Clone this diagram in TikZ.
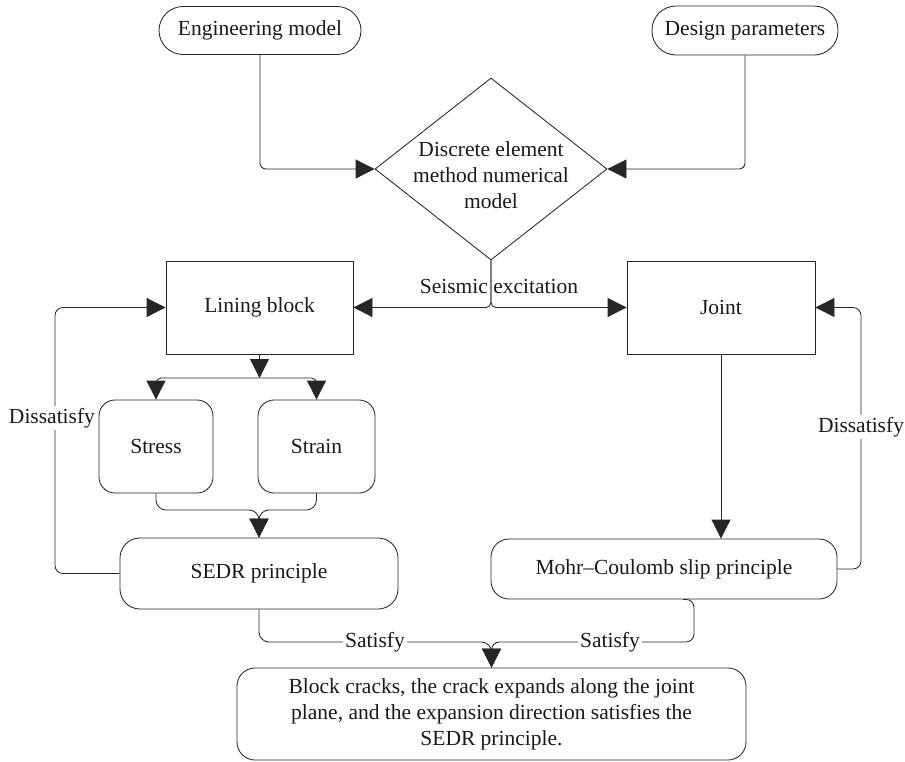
\documentclass[tikz,border=0pt]{standalone}
\usepackage{fontspec}
\setmainfont{Liberation Serif}
\usetikzlibrary{arrows.meta,shapes.geometric,calc}
\begin{document}
\begin{tikzpicture}[x=1pt,y=-1pt,
  every node/.style={font=\fontsize{21.5}{26}\selectfont, text=black!90},
  ln/.style={line width=0.85pt, draw=black!85},
  conn/.style={ln, -{Triangle[length=19pt,width=19pt]}},
  box/.style={ln, rectangle, inner sep=0pt, anchor=center},
  lbl/.style={fill=white, inner sep=2pt}]
\useasboundingbox (0,0) rectangle (905,761);
% nodes
\node[box, rounded corners=24pt, minimum width=202pt, minimum height=48pt] (em) at (260,30.5) {Engineering model};
\node[box, rounded corners=24pt, minimum width=186pt, minimum height=49pt] (dp) at (745,30.5) {Design parameters};
\node[ln, diamond, minimum width=232pt, minimum height=182pt, inner sep=0pt] (dem) at (491,169) {};
\node[align=center, inner sep=0pt] (demt) at (491,175) {Discrete element\\method numerical\\model};
\node[box, minimum width=187pt, minimum height=93pt] (lb) at (259.5,307.5) {Lining block};
\node[box, minimum width=188pt, minimum height=93pt] (jt) at (721,307.5) {Joint};
\node[box, rounded corners=16pt, minimum width=114pt, minimum height=93pt] (st) at (156,446.5) {Stress};
\node[box, rounded corners=16pt, minimum width=117pt, minimum height=93pt] (sn) at (316.5,446.5) {Strain};
\node[box, rounded corners=20pt, minimum width=278pt, minimum height=71pt] (sedr) at (259,573.5) {SEDR principle};
\node[box, rounded corners=18pt, minimum width=346pt, minimum height=60pt] (mc) at (664,569) {Mohr–Coulomb slip principle};
\node[box, rounded corners=18pt, minimum width=509pt, minimum height=92pt, align=center] (bt) at (491.5,714) {Block cracks, the crack expands along the joint\\plane, and the expansion direction satisfies the\\SEDR principle.};
% coordinates
\coordinate (lj) at (259.5,378);
\coordinate (mj) at (259,510);
\coordinate (dl) at (55,418);
\coordinate (dr) at (861,427);
\coordinate (bj) at (491.5,642);
% connectors
\draw[conn, rounded corners=6pt] (em.south) |- (dem.west);
\draw[conn, rounded corners=6pt] (dp.south) |- (dem.east);
\draw[conn, rounded corners=5pt] (dem.south) |- (lb.east);
\draw[conn, rounded corners=5pt] (dem.south) |- (jt.west);
\node (seis) at (499,286) {Seismic excitation};
\draw[conn] (lb.south) -- (lj);
\draw[conn, rounded corners=5pt] (lj) -| (st.north);
\draw[conn, rounded corners=5pt] (lj) -| (sn.north);
\draw[conn, rounded corners=10pt] (st.south) |- (mj) -- (sedr.north);
\draw[conn, rounded corners=10pt] (sn.south) |- (mj) -- (sedr.north);
\draw[conn, rounded corners=8pt] (sedr.west) -| (dl) |- (lb.west);
\node[lbl] (dll) at (52,418) {Dissatisfy};
\draw[conn, rounded corners=8pt] (mc.east) -| (dr) |- (jt.east);
\node[lbl] (drl) at (861,427) {Dissatisfy};
\draw[conn] (jt.south) -- (jt.south |- mc.north);
\draw[conn, rounded corners=10pt] (sedr.south) |- (bj) -- (bt.north);
\draw[conn, rounded corners=8pt] ($(mc.south)+(19,0)$) -- ++(11,0) |- (bj) -- (bt.north);
\node[lbl] (sl) at (375,642) {Satisfy};
\node[lbl] (sr) at (610,642) {Satisfy};
\end{tikzpicture}
\end{document}
